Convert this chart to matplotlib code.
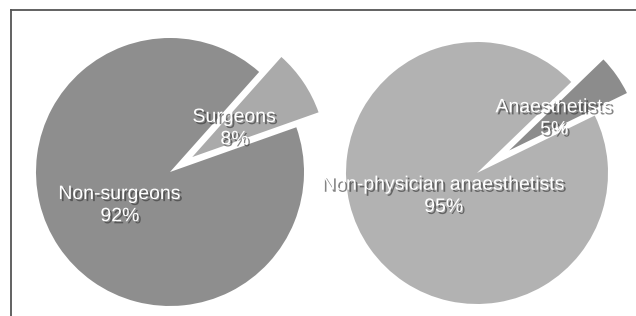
import matplotlib
matplotlib.use("Agg")
import matplotlib.pyplot as plt
import matplotlib.patheffects as pe
import numpy as np

# ── Data ─────────────────────────────────────────────
left_labels = ["Surgeons", "Non-surgeons"]
left_values = [8, 92]
right_labels = ["Anaesthetists", "Non-physician anaesthetists"]
right_values = [5, 95]

# ── Style ────────────────────────────────────────────
W, H = 636, 316
left_colors = ["#aaaaaa", "#8e8e8e"]
right_colors = ["#8c8c8c", "#b2b2b2"]
shadow = [pe.SimplePatchShadow(offset=(1.5, -1.5), shadow_rgbFace="#333333", alpha=0.6),
          pe.Normal()]

fig = plt.figure(figsize=(W / 100, H / 100), dpi=100)
ax = fig.add_axes([0, 0, 1, 1])


def draw_pie(values, labels, colors, center, radius, start, explode, dists):
    # explode is given as fraction of the radius; pie wants data units here
    wedges, _ = ax.pie(values, colors=colors, startangle=start, center=center,
                       radius=radius, explode=[e * radius for e in explode],
                       frame=True, wedgeprops=dict(linewidth=0))
    for w, lab, v, d in zip(wedges, labels, values, dists):
        mid = np.deg2rad((w.theta1 + w.theta2) / 2)
        cx, cy = w.center
        x = cx + d * w.r * np.cos(mid)
        y = cy + d * w.r * np.sin(mid)
        ax.text(x, y, f"{lab}\n{v}%", ha="center", va="center", color="white",
                fontsize=14, family="Liberation Sans", linespacing=1.4,
                path_effects=shadow)


draw_pie(left_values, left_labels, left_colors, (170, 144), 134, 19.5,
         [0.2, 0], [0.38, 0.45])
draw_pie(right_values, right_labels, right_colors, (477, 143), 131, 26,
         [0.3, 0], [0.42, 0.31])

ax.set_xlim(0, W)
ax.set_ylim(0, H)
ax.set_aspect("auto")
ax.set_axis_off()

# frame lines (top and left edge of the boxed figure)
fig.add_artist(plt.Line2D([11 / W, 1], [1 - 10 / H, 1 - 10 / H],
                          color="#555555", linewidth=1.3, transform=fig.transFigure))
fig.add_artist(plt.Line2D([11 / W, 11 / W], [0, 1 - 10 / H],
                          color="#555555", linewidth=1.3, transform=fig.transFigure))

fig.savefig("out.png", dpi=100, facecolor="white")
